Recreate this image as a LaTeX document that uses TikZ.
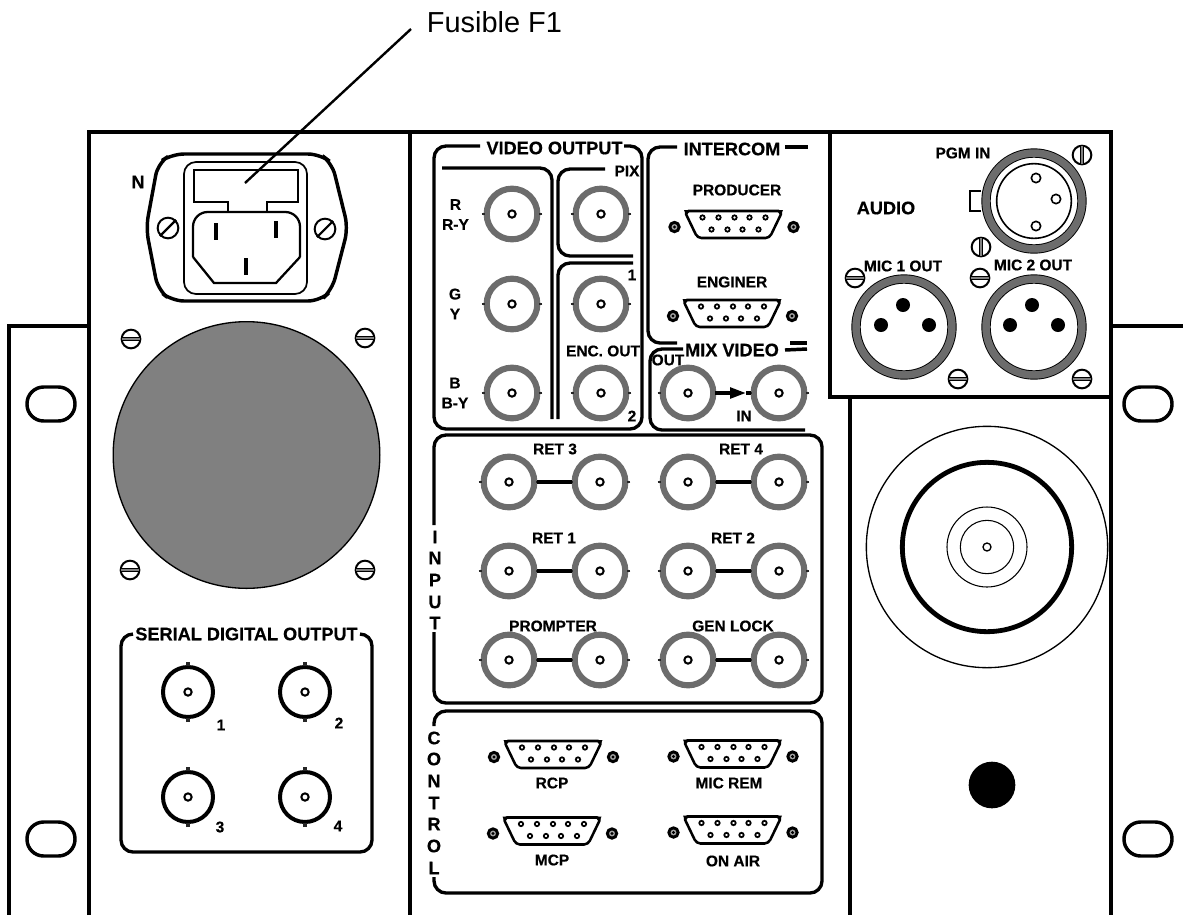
\documentclass[tikz,border=0pt]{standalone}
\usepackage{fontspec}
\setmainfont[BoldFeatures={FakeBold=0.5}]{Liberation Sans}
\usetikzlibrary{arrows.meta}
\definecolor{ringgray}{HTML}{6C6C6C}
\definecolor{fangray}{HTML}{808080}
\tikzset{
	frameline/.style={line width=3.1pt,black},
	boxline/.style={line width=2.5pt,black,rounded corners=9pt},
	thinline/.style={line width=1.3pt,black},
	lab/.style={inner sep=0pt,font=\fontsize{11.6}{13}\selectfont\bfseries},
	ttl/.style={inner sep=0pt,font=\fontsize{13.6}{15}\selectfont\bfseries},
	bncpin/.style={circle,draw=black,fill=white,line width=1.5pt,inner sep=0pt,minimum size=5.5pt},
	bncg/.style={circle,draw=ringgray,line width=4.6pt,inner sep=0pt,minimum size=38pt,label={[bncpin]center:{}}},
	bncb/.style={circle,draw=black,line width=3pt,inner sep=0pt,minimum size=37.5pt,label={[bncpin]center:{}}},
	bnctick/.style={line width=1.8pt,black!85},
	wire/.style={line width=2.6pt,black},
	screw/.style={circle,draw=black,fill=white,line width=1.5pt,inner sep=0pt,minimum size=#1},
	screw/.default=14pt,
	slot/.style={line width=0.8pt,black,double=gray,double distance=0.9pt},
	xlrshell/.style={circle,draw=black,line width=0.7pt,double=ringgray,double distance=5.6pt,fill=white,inner sep=0pt,minimum size=72pt},
	xlrpin/.style={circle,fill=black,inner sep=0pt,minimum size=10.5pt},
	xlrhole/.style={circle,draw=black,fill=white,line width=1.2pt,inner sep=0pt,minimum size=7pt},
	slotted/.style={circle,draw=black,fill=white,line width=1.5pt,inner sep=0pt,minimum size=15.5pt},
	slotcut/.style={line width=1.6pt,black},
	subdot/.style={circle,fill=black,inner sep=0pt,minimum size=2.6pt},
	subpost/.style={circle,draw=black,line width=2.2pt,fill=gray!70,inner sep=0pt,minimum size=7pt,label={[subdot]center:{}}},
	subpin/.style={line width=1.3pt,black,fill=white}
}
\newcommand{\ringbnc}[2]{
		\node[bncg](#1) at (#2){};
		\draw[bnctick] (#1.west) ++(-2,0) -- ++(3,0);
		\draw[bnctick] (#1.east) ++(2,0) -- ++(-3,0);
}
\newcommand{\darkbnc}[2]{
		\node[bncb](#1) at (#2){};
		\draw[bnctick,line width=2.4pt] (#1.north) ++(0,-3) -- ++(0,4);
		\draw[bnctick,line width=2.4pt] (#1.south) ++(0,3) -- ++(0,-4);
}
\newcommand{\screwh}[3]{
		\node[screw](#1) at (#2){};
		\draw[slot,shift={(#2)},rotate=#3] (-9,0)--(9,0);
}
\newcommand{\dsub}[2]{
	\begin{scope}[shift={(#2)}]
		\draw[line width=1.9pt,black,rounded corners=3pt] (-49,-13.5)--(49,-13.5)--(36,13.5)--(-36,13.5)--cycle;
		\fill[black] (-49.5,-14.5)--(-43,-14.5)--(-47,-9)--cycle;
		\fill[black] (49.5,-14.5)--(43,-14.5)--(47,-9)--cycle;
		\foreach \px in {-31,-15,1,16,32} \draw[subpin] (\px,-7) circle (2.2);
		\foreach \px in {-22,-6,9,25} \draw[subpin] (\px,5) circle (2.2);
		\node[subpost](#1l) at (-59,2.5){};
		\node[subpost](#1r) at (60,2.5){};
	\end{scope}
}
\begin{document}
\begin{tikzpicture}[x=0.75pt,y=-0.75pt]
		\useasboundingbox (0,0) rectangle (1183,915);

		\draw[frameline] (89,915)--(89,132)--(1111,132)--(1111,915);
		\draw[frameline] (410,132)--(410,915);
		\draw[frameline] (89,326)--(9,326)--(9,915);
		\draw[frameline] (1111,326)--(1183,326);
		\draw[frameline,line width=2.4pt] (830,132)--(830,397)--(1111,397);
		\draw[frameline,line width=2.4pt] (850,397)--(850,915);
		\foreach \sx/\sy in {51/404,51/839,1148/404,1148/839}
			\draw[line width=2.6pt,black,rounded corners=12.5pt] (\sx-24,\sy-17) rectangle (\sx+24,\sy+17);

		\draw[line width=2.6pt,black,rounded corners=9pt] (172,154)--(320,154)--(332,163)--(348,228)--(332,290)--(320,301)--(172,301)--(158,290)--(146,228)--(158,163)--cycle;
		\draw[thinline,rounded corners=9pt] (184,162) rectangle (307,294);
		\draw[thinline,line width=1.6pt] (228,212)--(228,202)--(194,202)--(194,170)--(298,170)--(298,202)--(267,202)--(267,212);
		\draw[thinline,line width=1.7pt,rounded corners=11pt] (193,257)--(193,212)--(300,212)--(300,257);
		\draw[thinline,line width=1.7pt] (193,257)--(214,283)--(276,283)--(300,257);
		\draw[line width=2.8pt] (216,223)--(216,240);
		\draw[line width=2.8pt] (276,221)--(276,238);
		\draw[line width=2.8pt] (246,258)--(246,275);
		\node[slotted](fa) at (168,228){};
		\node[slotted](fb) at (325,229){};
		\draw[slotcut] (fa.45)--(fa.225);
		\draw[slotcut] (fb.45)--(fb.225);
		\node[ttl](nlab) at (138,182){N};
		\node[inner sep=0pt,font=\fontsize{21.7}{24}\selectfont](fuse) at (494.5,22){Fusible F1};
		\coordinate (fusetip) at (245,183);
		\draw[line width=1.8pt] (411,29)--(fusetip);

		\node[circle,draw=black,line width=1pt,fill=fangray,inner sep=0pt,minimum size=200pt](fan) at (246.5,455){};
		\screwh{sa}{131,339}{0}
		\screwh{sb}{365,338}{0}
		\screwh{sc}{130,570}{0}
		\screwh{sd}{365,570}{0}

		\draw[boxline] (133,634)--(121,634)--(121,852)--(372,852)--(372,634)--(360,634);
		\node[ttl](sdi) at (246.5,634){SERIAL DIGITAL OUTPUT};
		\darkbnc{sdia}{188,692}
		\darkbnc{sdib}{305,692}
		\darkbnc{sdic}{188,797}
		\darkbnc{sdid}{305,797}
		\node[lab](sdil1) at (221,725){1};
		\node[lab](sdil2) at (339,723){2};
		\node[lab](sdil3) at (220,827){3};
		\node[lab](sdil4) at (338,826){4};

		\draw[boxline] (480,146)--(434,146)--(434,429)--(642,429)--(642,146)--(624,146);
		\node[ttl](vid) at (554.5,148){VIDEO OUTPUT};
		\draw[boxline] (442,168)--(552,168)--(552,419);
		\draw[boxline] (605,169)--(558,169)--(558,256)--(633,256);
		\draw[boxline] (633,263)--(558,263)--(558,419);
		\node[lab](pix) at (627,171){PIX};
		\ringbnc{vr}{512,214}
		\ringbnc{vg}{512,304}
		\ringbnc{vb}{512,393}
		\ringbnc{vp}{601,214}
		\ringbnc{ve}{601,304}
		\ringbnc{vf}{601,393}
		\node[lab,align=center](rlab) at (455.5,214.5){R\\[2pt]R-Y};
		\node[lab,align=center](glab) at (455,304){G\\[2pt]Y};
		\node[lab,align=center](blab) at (455,393){B\\[2pt]B-Y};
		\node[lab](enc1) at (632,275){1};
		\node[lab](enc) at (603,351){ENC. OUT};
		\node[lab](enc2) at (632,416){2};

		\draw[boxline] (677,147)--(648,147)--(648,343)--(677,343);
		\draw[wire] (785,147)--(808,147);
		\node[ttl](icom) at (732,149){INTERCOM};
		\node[lab](prod) at (737,190){PRODUCER};
		\dsub{dprod}{733.5,224.5}
		\node[lab](eng) at (732,282){ENGINER};
		\dsub{deng}{732,313.5}

		\draw[boxline] (683,349)--(650,349)--(650,430)--(805,430);
		\draw[wire] (790,343)--(807,343);
		\draw[wire] (785,350)--(807,349);
		\node[ttl](mix) at (732,350){MIX VIDEO};
		\node[lab](mout) at (668,360){OUT};
		\ringbnc{ma}{688,393}
		\ringbnc{mb}{779,393}
		\coordinate (mtip) at (746,393);
		\draw[wire,-{Triangle[length=12pt,width=8pt]},shorten <=-1pt] (ma)--(mtip);
		\draw[wire] (mtip)--(mb);
		\node[lab](min) at (744,416){IN};

		\draw[boxline] (434,525)--(434,435)--(822,435)--(822,703)--(434,703)--(434,632);
		\foreach \lt/\ly in {I/537,N/558,P/580,U/602,T/623}
			\node[ttl] at (435,\ly){\lt};
		\ringbnc{r3a}{509,482}
		\ringbnc{r3b}{600,482}
		\ringbnc{r4a}{688,482}
		\ringbnc{r4b}{779,482}
		\ringbnc{r1a}{509,571}
		\ringbnc{r1b}{600,571}
		\ringbnc{r2a}{688,571}
		\ringbnc{r2b}{779,571}
		\ringbnc{pra}{509,660}
		\ringbnc{prb}{600,660}
		\ringbnc{gla}{688,660}
		\ringbnc{glb}{779,660}
		\draw[wire] (r3a)--(r3b);
		\draw[wire] (r4a)--(r4b);
		\draw[wire] (r1a)--(r1b);
		\draw[wire] (r2a)--(r2b);
		\draw[wire] (pra)--(prb);
		\draw[wire] (gla)--(glb);
		\node[lab](ret3) at (555,449){RET 3};
		\node[lab](ret4) at (741,449){RET 4};
		\node[lab](ret1) at (554,538){RET 1};
		\node[lab](ret2) at (733,538){RET 2};
		\node[lab](prm) at (553,626){PROMPTER};
		\node[lab](gen) at (733,626){GEN LOCK};

		\draw[boxline] (434,726)--(434,711)--(822,711)--(822,893)--(434,893)--(434,877);
		\foreach \lt/\ly in {C/738,O/759,N/781,T/803,R/824,O/846,L/868}
			\node[ttl] at (434,\ly){\lt};
		\dsub{drcp}{553,754.5}
		\dsub{drem}{732.5,754}
		\dsub{dmcp}{552,831}
		\dsub{dair}{732.5,830}
		\node[lab](rcp) at (552,783){RCP};
		\node[lab](rem) at (729,783){MIC REM};
		\node[lab](mcp) at (552,860){MCP};
		\node[lab](air) at (733,861){ON AIR};

		\node[ttl](aud) at (886,208){AUDIO};
		\node[lab](pgm) at (963,153){PGM IN};
		\node[lab](mic1) at (903,266){MIC 1 OUT};
		\node[lab](mic2) at (1033,265){MIC 2 OUT};
		\draw[thinline] (981,191)--(970,191)--(970,211)--(981,211);
		\node[xlrshell](pgmc) at (1034,201){};
		\node[circle,draw=black,line width=1.2pt,inner sep=0pt,minimum size=56pt] at (pgmc){};
		\node[xlrhole] at (1036,178){};
		\node[xlrhole] at (1056,199){};
		\node[xlrhole] at (1036,226){};
		\node[xlrshell](mica) at (904,327){};
		\node[xlrpin] at (903,305){};
		\node[xlrpin] at (881,325){};
		\node[xlrpin] at (929,325){};
		\node[xlrshell](micb) at (1034,327){};
		\node[xlrpin] at (1032,305){};
		\node[xlrpin] at (1010,325){};
		\node[xlrpin] at (1058,325){};
		\screwh{ae}{855,278}{0}
		\screwh{af}{980,278}{0}
		\screwh{ag}{958,379}{0}
		\screwh{ah}{1082,379}{0}
		\screwh{ai}{1082,155}{90}
		\screwh{aj}{981,247}{90}

		\node[circle,draw=black,line width=1pt,inner sep=0pt,minimum size=181pt](pota) at (987,547){};
		\node[circle,draw=black,line width=3.6pt,inner sep=0pt,minimum size=127pt](potb) at (pota){};
		\node[circle,draw=black,line width=0.8pt,inner sep=0pt,minimum size=60pt](potc) at (pota){};
		\node[circle,draw=black,line width=0.8pt,inner sep=0pt,minimum size=40pt](potd) at (pota){};
		\node[circle,draw=black,line width=1pt,inner sep=0pt,minimum size=6pt](pote) at (pota){};
		\node[circle,fill=black,inner sep=0pt,minimum size=35pt](hole) at (992,785){};
	\end{tikzpicture}
\end{document}
